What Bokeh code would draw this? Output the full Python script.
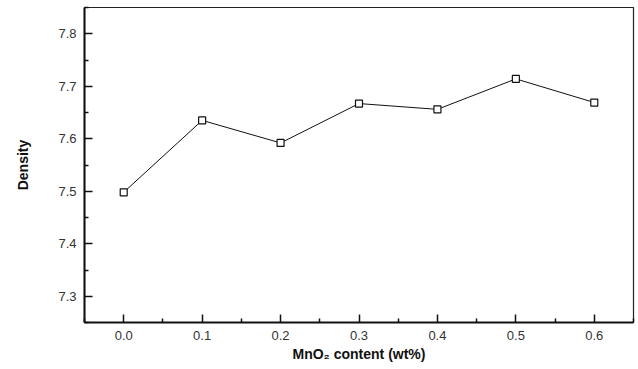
from bokeh.plotting import figure
from bokeh.models import FixedTicker, Range1d
from bokeh.embed import file_html
from bokeh.resources import INLINE

mno2 = [0.0, 0.1, 0.2, 0.3, 0.4, 0.5, 0.6]
density = [7.498, 7.635, 7.592, 7.667, 7.656, 7.714, 7.669]
x_ticks = [0.0, 0.1, 0.2, 0.3, 0.4, 0.5, 0.6]
x_minor = [-0.05, 0.05, 0.15, 0.25, 0.35, 0.45, 0.55, 0.65]
y_ticks = [7.3, 7.4, 7.5, 7.6, 7.7, 7.8]
y_minor = [7.25, 7.35, 7.45, 7.55, 7.65, 7.75, 7.85]

p = figure(width=638, height=369, output_backend="svg", toolbar_location=None,
           x_range=Range1d(-0.05, 0.65), y_range=Range1d(7.25, 7.85),
           min_border_left=84, min_border_right=5, min_border_top=7, min_border_bottom=47)
p.xgrid.visible = False
p.ygrid.visible = False
p.background_fill_color = "white"
p.border_fill_color = "white"
p.outline_line_color = "#222222"
p.outline_line_width = 1.2

p.line(mno2, density, line_color="#111111", line_width=1)
p.scatter(mno2, density, marker="square", size=7, fill_color="white",
          line_color="#111111", line_width=1.2)

for ax, ticks, minor in ((p.xaxis[0], x_ticks, x_minor), (p.yaxis[0], y_ticks, y_minor)):
    ax.ticker = FixedTicker(ticks=ticks, minor_ticks=minor)
    ax.major_tick_in = 8
    ax.major_tick_out = 0
    ax.minor_tick_in = 4
    ax.minor_tick_out = 0
    ax.axis_line_width = 2
    ax.axis_line_color = "#111111"
    ax.major_tick_line_color = "#111111"
    ax.minor_tick_line_color = "#111111"
    ax.major_tick_line_width = 1.5
    ax.minor_tick_line_width = 1.5
    ax.major_label_text_font = "Liberation Sans"
    ax.major_label_text_font_size = "13px"
    ax.major_label_text_color = "#333333"
    ax.axis_label_text_font = "Liberation Sans"
    ax.axis_label_text_font_style = "bold"
    ax.axis_label_text_font_size = "14px"
    ax.axis_label_text_color = "#111111"

p.xaxis.major_label_overrides = {t: f"{t:.1f}" for t in x_ticks}
p.yaxis.major_label_overrides = {t: f"{t:.1f}" for t in y_ticks}
p.xaxis.axis_label = "MnO₂ content (wt%)"
p.yaxis.axis_label = "Density"
p.xaxis.major_label_standoff = 8
p.yaxis.major_label_standoff = 8
p.xaxis.axis_label_standoff = 3
p.yaxis.axis_label_standoff = 24

open("out.html", "w").write(file_html(p, INLINE))
